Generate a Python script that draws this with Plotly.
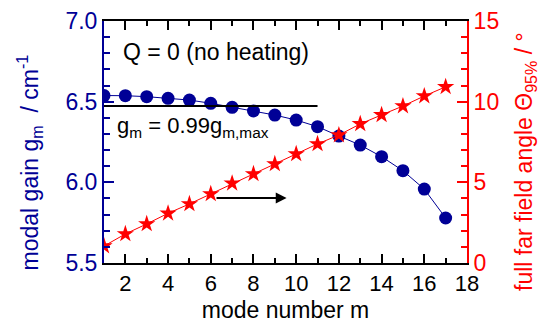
import plotly.graph_objects as go

mode = list(range(1, 18))
gain = [6.538, 6.537, 6.531, 6.521, 6.51, 6.49, 6.465, 6.442, 6.417, 6.386,
        6.345, 6.287, 6.231, 6.159, 6.072, 5.958, 5.779]
angle = [1.05, 1.8, 2.42, 3.08, 3.66, 4.28, 4.94, 5.52, 6.14, 6.76,
         7.38, 7.93, 8.62, 9.18, 9.73, 10.35, 10.92]
thr_x = [1, 11]
thr = 0.99 * max(gain)
arrow_x = [6.2, 9.55]
arrow_y2 = 4.03

BLUE = "#000096"
RED = "#FF0000"
FONT = "Liberation Sans, Arial, sans-serif"

fig = go.Figure()
fig.add_trace(go.Scatter(x=mode, y=gain, mode="lines+markers",
                         line=dict(color=BLUE, width=1),
                         marker=dict(color=BLUE, size=13, symbol="circle"),
                         showlegend=False))
fig.add_trace(go.Scatter(x=thr_x, y=[thr, thr], mode="lines",
                         line=dict(color="black", width=2), showlegend=False))
fig.add_trace(go.Scatter(x=mode, y=angle, mode="lines+markers", yaxis="y2",
                         line=dict(color=RED, width=1),
                         marker=dict(color=RED, size=13, symbol="star"),
                         showlegend=False))

fig.add_annotation(x=arrow_x[1], y=arrow_y2, ax=arrow_x[0], ay=arrow_y2,
                   xref="x", yref="y2", axref="x", ayref="y2",
                   showarrow=True, arrowhead=2, arrowsize=1.2, arrowwidth=1.8,
                   arrowcolor="black", text="")
fig.add_annotation(x=1.78, y=6.81, xref="x", yref="y", xanchor="left",
                   yanchor="middle", showarrow=False,
                   text="Q = 0 (no heating)", font=dict(size=23, color="black", family=FONT))
fig.add_annotation(x=1.5, y=6.345, xref="x", yref="y", xanchor="left",
                   yanchor="middle", showarrow=False,
                   text="g<sub>m</sub> = 0.99g<sub>m,max</sub>",
                   font=dict(size=22, color="black", family=FONT))
# axis titles as rotated annotations
fig.add_annotation(x=-0.207, y=0.415, xref="paper", yref="paper",
                   xanchor="center", yanchor="middle", showarrow=False,
                   textangle=-90,
                   text="modal gain g<sub>m</sub>  / cm<sup>-1</sup>",
                   font=dict(size=23, color=BLUE, family=FONT))
fig.add_annotation(x=1.163, y=0.418, xref="paper", yref="paper",
                   xanchor="center", yanchor="middle", showarrow=False,
                   textangle=-90,
                   text="full far field angle \u0398<sub>95%</sub> / \u00b0",
                   font=dict(size=23, color=RED, family=FONT))

# page body adds an 8px offset; compensate in the figure size and margins
fig.update_layout(
    width=540, height=327,
    margin=dict(l=96, r=81, t=13, b=72, autoexpand=False),
    paper_bgcolor="white", plot_bgcolor="white",
    font=dict(family=FONT, color="black"),
    xaxis=dict(range=[1, 18], tick0=2, dtick=2, ticks="inside", ticklen=9,
               tickwidth=2, tickcolor="black", showline=True, linecolor="black",
               linewidth=2, mirror="ticks", showgrid=False, zeroline=False,
               automargin=False,
               tickfont=dict(size=22, color="black"),
               minor=dict(dtick=1, ticks="inside", ticklen=5, tickwidth=2,
                          tickcolor="black", showgrid=False),
               title=dict(text="mode number m", font=dict(size=23, color="black"),
                          standoff=6)),
    yaxis=dict(range=[5.5, 7.0], tick0=5.5, dtick=0.5, tickformat=".1f",
               ticks="inside", ticklen=10, tickwidth=2, tickcolor=BLUE,
               showline=True, linecolor=BLUE, linewidth=2, showgrid=False,
               zeroline=False, automargin=False,
               tickfont=dict(size=23, color=BLUE),
               minor=dict(dtick=0.1, ticks="inside", ticklen=6, tickwidth=2,
                          tickcolor=BLUE, showgrid=False)),
    yaxis2=dict(range=[0, 15], dtick=5, overlaying="y", side="right",
                ticks="inside", ticklen=10, tickwidth=2, tickcolor=RED,
                showline=True, linecolor=RED, linewidth=2, showgrid=False,
                zeroline=False, automargin=False,
                tickfont=dict(size=23, color=RED),
                minor=dict(dtick=1, ticks="inside", ticklen=6, tickwidth=2,
                           tickcolor=RED, showgrid=False)),
)

fig.write_html("out.html")
